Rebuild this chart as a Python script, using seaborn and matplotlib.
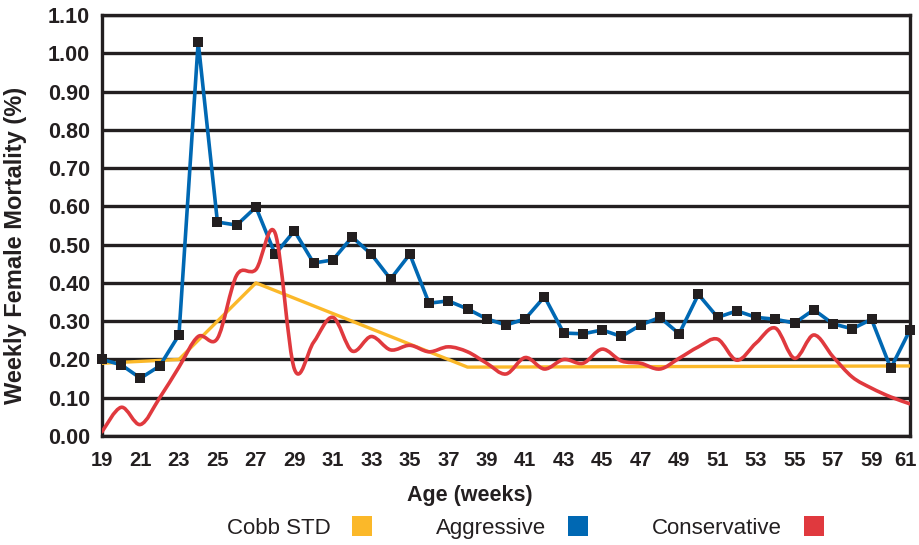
import numpy as np
import pandas as pd
import matplotlib
matplotlib.use("Agg")
import matplotlib.pyplot as plt
import seaborn as sns
from matplotlib.path import Path
from matplotlib.patches import PathPatch
from matplotlib.lines import Line2D
from matplotlib.transforms import ScaledTranslation

# ---------------- data ----------------
weeks = list(range(19, 62))

aggressive = [0.20, 0.186, 0.151, 0.183, 0.264, 1.03, 0.559, 0.551, 0.598, 0.475,
              0.536, 0.452, 0.46, 0.52, 0.475, 0.41, 0.475, 0.347, 0.353, 0.332,
              0.306, 0.29, 0.306, 0.364, 0.269, 0.267, 0.277, 0.26, 0.29, 0.31,
              0.267, 0.37, 0.31, 0.327, 0.31, 0.305, 0.295, 0.33, 0.293, 0.28,
              0.305, 0.177, 0.277]

conservative = [0.011, 0.075, 0.03, 0.10, 0.18, 0.26, 0.255, 0.42, 0.435, 0.53,
                0.175, 0.245, 0.31, 0.222, 0.26, 0.225, 0.237, 0.22, 0.233, 0.22,
                0.19, 0.162, 0.205, 0.175, 0.2, 0.19, 0.227, 0.196, 0.19, 0.175,
                0.203, 0.233, 0.253, 0.198, 0.243, 0.282, 0.203, 0.264, 0.207, 0.154,
                0.125, 0.102, 0.084]

cobb_weeks = [19, 23, 27, 38, 61]
cobb_std = [0.19, 0.20, 0.40, 0.18, 0.183]

xtick_labels = [str(w) for w in range(19, 62, 2)]
ytick_values = [round(0.1 * i, 2) for i in range(12)]
series_names = ["Cobb STD", "Aggressive", "Conservative"]

# ---------------- style ----------------
YELLOW = "#FBB829"
BLUE = "#0068B3"
RED = "#E0393E"
INK = "#231F20"

sns.set_theme(style="white")
plt.rcParams["font.family"] = ["Liberation Sans", "DejaVu Sans"]
plt.rcParams["text.color"] = INK

fig = plt.figure(figsize=(9.19, 5.45), dpi=100)
ax = fig.add_axes([102 / 919, 1 - 436 / 545, (910 - 102) / 919, (436 - 15) / 545])

df_agg = pd.DataFrame({"week": weeks, "value": aggressive})
df_cobb = pd.DataFrame({"week": cobb_weeks, "value": cobb_std})

sns.lineplot(data=df_cobb, x="week", y="value", ax=ax, color=YELLOW, lw=2.4,
             zorder=3)
sns.lineplot(data=df_agg, x="week", y="value", ax=ax, color=BLUE, lw=2.6,
             marker="s", markersize=6.8, markerfacecolor=INK, markeredgecolor=INK,
             markeredgewidth=0, clip_on=False, zorder=4)


def smooth_path(xs, ys):
    pts = np.column_stack([xs, ys]).astype(float)
    n = len(pts)
    verts = [pts[0]]
    codes = [Path.MOVETO]
    for i in range(n - 1):
        p0 = pts[i - 1] if i > 0 else pts[i]
        p1 = pts[i]
        p2 = pts[i + 1]
        p3 = pts[i + 2] if i + 2 < n else pts[i + 1]
        c1 = p1 + (p2 - p0) / 6.0
        c2 = p2 - (p3 - p1) / 6.0
        verts += [c1, c2, p2]
        codes += [Path.CURVE4] * 3
    return Path(verts, codes)


ax.add_patch(PathPatch(smooth_path(weeks, conservative), fill=False,
                       edgecolor=RED, lw=2.6, zorder=5, transform=ax.transData,
                       capstyle="round", joinstyle="round"))

# ---------------- axes ----------------
ax.set_xlim(19, 61)
ax.set_ylim(0, 1.10)
ax.set_xticks(list(range(19, 62, 2)))
ax.set_xticklabels(xtick_labels)
ax.set_yticks(ytick_values)
ax.set_yticklabels([f"{v:.2f}" for v in ytick_values])

ax.yaxis.grid(True, color=INK, linewidth=2.4)
ax.xaxis.grid(False)
ax.set_axisbelow(True)
for s in ax.spines.values():
    s.set_visible(True)
    s.set_color(INK)
    s.set_linewidth(2.4)

ax.tick_params(axis="both", direction="out", length=7, width=2.4, color=INK,
               labelcolor=INK)
ax.tick_params(axis="y", pad=1.5, labelsize=15.5)
ax.tick_params(axis="x", pad=4, labelsize=14.5)
for lab in ax.get_xticklabels() + ax.get_yticklabels():
    lab.set_fontweight("bold")

# keep the last x tick label inside the figure edge
last = ax.get_xticklabels()[-1]
last.set_transform(last.get_transform() + ScaledTranslation(-3.5 / 72, 0, fig.dpi_scale_trans))

ax.set_xlabel("Age (weeks)", fontsize=15.5, fontweight="bold", color=INK)
ax.xaxis.set_label_coords((470 - 102) / 808, (436 - 485) / 421)
ax.set_ylabel("Weekly Female Mortality (%)", fontsize=17, fontweight="bold",
              color=INK)
ax.yaxis.set_label_coords((27 - 102) / 808, (436 - 245) / 421)

handles = [Line2D([0], [0], marker="s", ls="none", markersize=13.7,
                  markerfacecolor=c, markeredgewidth=0)
           for c in (YELLOW, BLUE, RED)]
fig.legend(handles, series_names, loc="center", bbox_to_anchor=(525 / 919, 0.031),
           ncol=3, frameon=False, markerfirst=False, handlelength=0.86,
           handletextpad=1.0, columnspacing=2.9,
           prop={"family": "Liberation Sans", "size": 16}, labelcolor=INK)

fig.savefig("out.png", dpi=100)
